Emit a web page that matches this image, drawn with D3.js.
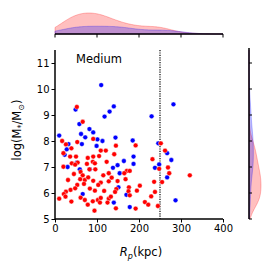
<!DOCTYPE html>
<html>
<head>
<meta charset="utf-8">
<script src="https://cdn.jsdelivr.net/npm/d3@7"></script>
<style>
  body { margin: 0; background: #fff; }
  svg { display: block; font-family: "DejaVu Sans", sans-serif; }
</style>
</head>
<body>
<div id="chart"></div>
<script>
// [R_p (kpc), log(M*/Msun)]
const bluePoints = [
    [110, 10.15], [49, 9.21], [130, 9.13], [140, 9.33], [118, 8.94], [58, 8.65],
    [82, 8.46], [91, 8.33], [62, 8.27], [10, 8.21], [230, 8.95], [282, 9.41],
    [144, 8.13], [72, 8.14], [101, 8.06], [113, 8.0], [185, 8.02], [99, 7.81],
    [28, 7.68], [23, 7.47], [246, 7.91], [187, 7.40], [164, 7.23], [187, 7.12],
    [149, 7.07], [138, 6.97], [154, 6.76], [238, 6.97], [248, 7.10], [267, 7.53],
    [277, 7.27], [267, 6.60], [287, 5.72], [151, 6.22], [170, 5.93], [140, 5.63],
    [178, 5.46], [30, 7.0], [52, 7.17], [59, 6.91], [83, 6.91], [66, 5.96],
    [32, 7.88], [64, 7.88]
];
const redPoints = [
    [52, 9.31], [66, 8.74], [17, 8.0], [26, 7.87], [53, 7.96], [91, 8.08],
    [145, 7.82], [192, 7.83], [252, 7.91], [262, 7.63], [20, 7.53], [39, 7.72],
    [109, 7.63], [121, 7.63], [36, 7.40], [50, 7.40], [78, 7.35], [91, 7.40],
    [105, 7.42], [40, 7.14], [54, 7.17], [90, 7.20], [95, 7.14], [123, 7.20],
    [20, 7.01], [48, 7.09], [76, 7.12], [61, 6.81], [82, 6.91], [96, 6.91],
    [45, 6.73], [66, 6.68], [115, 6.68], [128, 6.76], [60, 6.53], [71, 6.50],
    [79, 6.60], [91, 6.47], [128, 6.45], [31, 6.50], [109, 6.40], [53, 6.31],
    [69, 6.35], [103, 6.31], [26, 6.05], [37, 6.12], [48, 6.18], [83, 6.17],
    [95, 6.09], [117, 6.08], [21, 5.96], [10, 5.78], [25, 5.86], [39, 5.67],
    [61, 5.82], [71, 5.73], [90, 5.68], [102, 5.73], [109, 5.81], [128, 5.78],
    [78, 5.55], [94, 5.32], [107, 5.63], [141, 7.49], [171, 6.85], [178, 6.85],
    [165, 6.76], [135, 6.59], [168, 6.53], [149, 6.46], [236, 6.43], [255, 6.42],
    [202, 6.28], [176, 6.22], [146, 6.15], [195, 6.09], [175, 6.07], [143, 6.04],
    [238, 6.04], [133, 5.86], [178, 5.91], [229, 5.87], [214, 5.65], [222, 5.55],
    [125, 5.63], [145, 5.41], [192, 5.40], [245, 5.50], [232, 7.30], [248, 6.93],
    [269, 6.98], [272, 6.76], [321, 6.68]
];
const xTicks = [0, 100, 200, 300, 400];
const yTicks = [5, 6, 7, 8, 9, 10, 11];
const cutoff = 250;
const panelLabel = "Medium";

const width = 274, height = 274;
const svg = d3.select("#chart").append("svg")
    .attr("width", width)
    .attr("height", height);

const x = d3.scaleLinear().domain([0, 400]).range([55, 223]);
const y = d3.scaleLinear().domain([5, 11.5]).range([219, 50]);

// gaussian kde, scott bandwidth, weighted by group size (common_norm)
function kde(values, grid, total) {
    const n = values.length;
    const bw = d3.deviation(values) * Math.pow(n, -0.2);
    return grid.map(g => {
        const s = d3.sum(values, v => Math.exp(-0.5 * ((g - v) / bw) ** 2));
        return [g, s / (n * bw * Math.sqrt(2 * Math.PI)) * n / total];
    });
}
const total = redPoints.length + bluePoints.length;
const groups = [
    { pts: bluePoints, color: "#0000ff" },
    { pts: redPoints, color: "#ff0000" }
];

// top marginal
const gridR = d3.range(0, 400.1, 2);
groups.forEach(g => g.kx = kde(g.pts.map(d => d[0]), gridR, total));
const maxKx = d3.max(groups, g => d3.max(g.kx, d => d[1]));
const yTop = d3.scaleLinear().domain([0, maxKx]).range([34, 13]);

// right marginal
const gridM = d3.range(5, 11.51, 0.02);
groups.forEach(g => g.ky = kde(g.pts.map(d => d[1]), gridM, total));
const maxKy = d3.max(groups, g => d3.max(g.ky, d => d[1]));
const xRight = d3.scaleLinear().domain([0, maxKy]).range([249, 261]);

[...groups].reverse().forEach(g => {
    svg.append("path")
        .datum(g.kx)
        .attr("d", d3.area().x(d => x(d[0])).y0(yTop(0)).y1(d => yTop(d[1])))
        .attr("fill", g.color).attr("fill-opacity", 0.25)
        .attr("stroke", g.color).attr("stroke-opacity", 0.25).attr("stroke-width", 1);

    svg.append("path")
        .datum(g.ky)
        .attr("d", d3.area().y(d => y(d[0])).x0(xRight(0)).x1(d => xRight(d[1])))
        .attr("fill", g.color).attr("fill-opacity", 0.25)
        .attr("stroke", g.color).attr("stroke-opacity", 0.25).attr("stroke-width", 1);
});

// marginal spines + ticks
svg.append("line").attr("x1", 55).attr("x2", 223).attr("y1", 34).attr("y2", 34)
    .attr("stroke", "#000").attr("stroke-width", 1.5);
svg.selectAll(".ttick").data(xTicks).join("line")
    .attr("x1", d => x(d)).attr("x2", d => x(d)).attr("y1", 34).attr("y2", 37.5)
    .attr("stroke", "#000").attr("stroke-width", 1);
svg.append("line").attr("x1", 249).attr("x2", 249).attr("y1", 48).attr("y2", 219)
    .attr("stroke", "#000").attr("stroke-width", 1.5);
svg.selectAll(".rtick").data(yTicks).join("line")
    .attr("x1", 249).attr("x2", 252).attr("y1", d => y(d)).attr("y2", d => y(d))
    .attr("stroke", "#000").attr("stroke-width", 1);

// cutoff line
svg.append("line")
    .attr("x1", x(cutoff)).attr("x2", x(cutoff)).attr("y1", 50).attr("y2", 219)
    .attr("stroke", "#000").attr("stroke-width", 1.2).attr("stroke-dasharray", "1.2,1.2");

// points
const dots = bluePoints.map(d => ({ d, c: "#0000ff" })).concat(redPoints.map(d => ({ d, c: "#ff0000" })));
svg.selectAll(".dot").data(dots).join("circle")
    .attr("cx", p => x(p.d[0]))
    .attr("cy", p => y(p.d[1]))
    .attr("r", 2.4)
    .attr("fill", p => p.c)
    .attr("stroke", "#fff").attr("stroke-width", 0.4);

// axes
const xAxis = svg.append("g").attr("transform", "translate(0,219)")
    .call(d3.axisBottom(x).tickValues(xTicks).tickFormat(d3.format("d")).tickSize(3.5).tickPadding(2));
const yAxis = svg.append("g").attr("transform", "translate(55,0)")
    .call(d3.axisLeft(y).tickValues(yTicks).tickFormat(d3.format("d")).tickSize(3.5).tickPadding(2));
[xAxis, yAxis].forEach(a => {
    a.select(".domain").attr("stroke-width", 1.5);
    a.selectAll("text").attr("font-size", 10).attr("fill", "#000")
        .attr("font-family", "DejaVu Sans");
});
yAxis.select(".domain").attr("d", "M0,219V50");
xAxis.select(".domain").attr("d", "M55,0H223");

svg.append("text").attr("x", 99).attr("y", 63)
    .attr("text-anchor", "middle").attr("font-size", 11.5).text(panelLabel);

// x label
const xl = svg.append("text").attr("x", 141).attr("y", 256)
    .attr("text-anchor", "middle").attr("font-size", 11.5);
xl.append("tspan").attr("font-style", "italic").text("R");
xl.append("tspan").attr("font-style", "italic").attr("font-size", 8).attr("dy", 2.5).text("p");
xl.append("tspan").attr("dy", -2.5).text("(kpc)");

// y label
const yl = svg.append("text")
    .attr("transform", "translate(21,130) rotate(-90)")
    .attr("text-anchor", "middle").attr("font-size", 11.5);
yl.append("tspan").text("log(M");
yl.append("tspan").attr("font-size", 8).attr("dy", 2.5).text("*");
yl.append("tspan").attr("dy", -2.5).text("/M");
yl.append("tspan").attr("font-size", 8).attr("dy", 2.5).text("⊙");
yl.append("tspan").attr("dy", -2.5).text(")");
</script>
</body>
</html>
